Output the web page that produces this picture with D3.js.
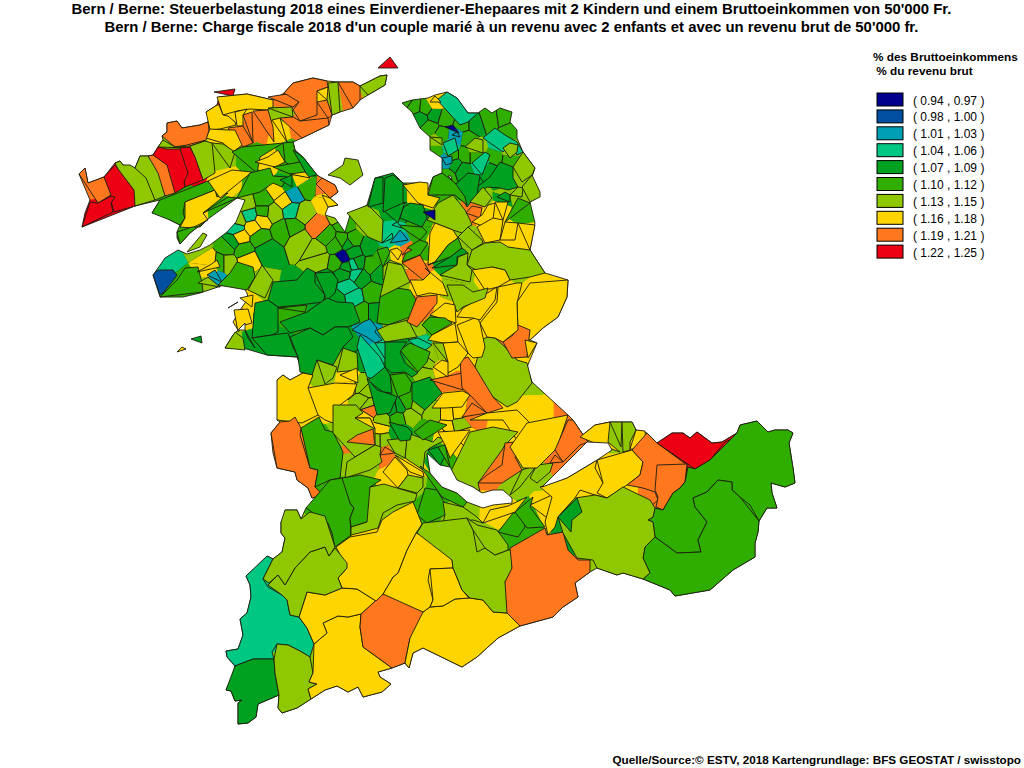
<!DOCTYPE html>
<html>
<head>
<meta charset="utf-8">
<script src="https://cdn.jsdelivr.net/npm/d3@7"></script>
<style>
  html, body { margin: 0; padding: 0; background: #fff; }
  text { font-family: "Liberation Sans", Arial, sans-serif; fill: #000; }
</style>
</head>
<body>
<div id="map"></div>
<script>
const titleLines = [
  "Bern / Berne: Steuerbelastung 2018 eines Einverdiener-Ehepaares mit 2 Kindern und einem Bruttoeinkommen von 50'000 Fr.",
  "Bern / Berne: Charge fiscale 2018 d'un couple marié à un revenu avec 2 enfants et avec un revenu brut de 50'000 fr."
];
const legendTitle = ["% des Bruttoeinkommens", " % du revenu brut"];
const sourceLine = "Quelle/Source:© ESTV, 2018 Kartengrundlage: BFS GEOSTAT / swisstopo";
const classLabels = ["( 0.94 , 0.97 )", "( 0.98 , 1.00 )", "( 1.01 , 1.03 )", "( 1.04 , 1.06 )", "( 1.07 , 1.09 )",
  "( 1.10 , 1.12 )", "( 1.13 , 1.15 )", "( 1.16 , 1.18 )", "( 1.19 , 1.21 )", "( 1.22 , 1.25 )"];
const classBreaks = [0.975, 1.005, 1.035, 1.065, 1.095, 1.125, 1.155, 1.185, 1.215];
const classColors = ["#00008c", "#004fa0", "#00a0b4", "#00c882", "#00a020", "#2fae00", "#8fc800", "#ffd500", "#ff781e", "#ee0014"];
const classMiddles = [0.95, 0.99, 1.02, 1.05, 1.08, 1.11, 1.14, 1.17, 1.20, 1.23];

// small communes of the dense middle: [x, y, rate]
const coreSeeds = [
  [167,260,1.05],[236,228,1.05],[250,215,1.05],[262,220,1.17],[253,227,1.17],[240,237,1.17],[238,220,1.14],[247,204,1.14],
  [227,247,1.11],[232,242,1.08],[220,263,1.11],[210,262,1.17],[228,263,1.14],[247,260,1.17],[243,250,1.11],[267,250,1.08],
  [260,237,1.11],[282,230,1.11],[300,240,1.14],[320,260,1.14],[317,227,1.20],[327,237,1.11],[263,200,1.11],[277,190,1.17],
  [285,200,1.17],[292,210,1.05],[293,195,1.02],[307,187,1.11],[327,197,1.17],[273,213,1.14],[263,212,1.11],[303,213,1.14],
  [293,227,1.11],[343,258,0.95],[352,240,1.11],[353,253,1.08],[355,264,1.05],[348,287,1.05],[357,275,1.05],[353,297,1.05],
  [373,293,1.11],[343,273,1.08],[327,280,1.08],[380,273,1.08],[357,263,1.08],[337,263,1.11],[337,300,1.08],[362,313,1.11],
  [375,313,1.08],[348,243,1.08],[370,247,1.08],[343,240,1.11],[372,265,1.11],[360,277,1.08],[345,267,1.08],[335,245,1.11],
  [317,250,1.14],[367,392,1.14],[363,400,1.14],[368,404,1.14],[370,410,1.20],[380,428,1.17],[365,418,1.17],[382,420,1.14],
  [382,440,1.14],[400,407,1.08],[407,403,1.11],[417,405,1.14],[433,413,1.14],[427,363,1.14],[425,373,1.14],[433,355,1.14],
  [448,413,1.17],[458,412,1.17],[447,428,1.17],[445,435,1.17],[460,425,1.14],[463,435,1.17],[453,445,1.17],[440,433,1.17],
  [360,385,1.14],[350,385,1.17],[380,402,1.08],[392,408,1.08],[398,418,1.11],[410,415,1.14],[378,440,1.14],[372,455,1.14],
  [405,100,1.11],[415,107,1.11],[425,108,1.11],[420,118,1.08],[435,115,1.08],[445,118,1.11],[430,128,1.11],[442,135,1.11],
  [436,150,1.11],[447,175,1.11],[463,125,1.11],[475,125,1.08],[490,120,1.11],[505,118,1.11],[510,130,1.11],[467,138,1.11],
  [455,165,1.08],[463,170,1.08],[475,155,1.11],[495,158,1.11],[510,160,1.11],[490,170,1.08],[452,155,1.11],[465,155,1.11],
  [395,195,1.08],[400,215,1.08],[415,225,1.11],[470,185,1.08],[505,195,1.14],[445,190,1.11],[425,170,1.11],[470,240,1.14],
  [340,215,1.14],[345,225,1.11],[415,265,1.17],[455,290,1.14],[415,330,1.14],[400,345,1.08],[360,360,1.08],[350,343,1.08]
];

const cantonOutline = [[82,227],[85,213],[90,200],[79,174],[85,168],[88,183],[104,177],[115,163],[120,161],[123,165],[135,168],[140,156],[148,156],
  [153,155],[158,147],[163,140],[162,136],[167,132],[167,123],[177,121],[182,128],[200,125],[208,122],[209,118],[206,112],[217,105],[219,97],
  [247,94],[273,100],[284,93],[293,83],[313,78],[327,81],[338,82],[353,82],[360,86],[380,76],[387,75],[385,85],[368,95],[360,100],[353,108],
  [340,112],[332,115],[329,125],[302,138],[293,142],[295,150],[303,157],[317,175],[322,178],[335,185],[338,192],[330,198],[338,205],[328,207],
  [325,215],[335,218],[345,232],[350,215],[367,205],[375,178],[393,173],[403,183],[420,183],[428,190],[433,177],[442,173],[442,158],[430,150],
  [430,137],[420,128],[412,112],[402,103],[412,100],[428,98],[435,95],[447,92],[457,98],[468,113],[478,113],[485,108],[492,113],[500,108],
  [512,112],[510,122],[517,130],[517,138],[523,152],[535,168],[532,177],[540,195],[530,202],[535,223],[530,250],[545,273],[568,280],[567,297],
  [558,317],[543,328],[530,340],[537,343],[527,367],[532,382],[568,415],[573,420],[588,442],[580,437],[595,425],[610,422],[632,422],[636,430],
  [647,433],[657,443],[672,433],[683,433],[690,438],[697,432],[712,443],[722,442],[737,433],[740,425],[757,421],[768,432],[775,430],[788,430],
  [793,433],[789,443],[793,468],[795,483],[785,487],[771,483],[772,493],[777,508],[767,508],[759,521],[758,532],[755,543],[755,557],[733,570],
  [710,590],[675,596],[670,590],[643,579],[623,573],[617,575],[597,568],[590,572],[575,583],[578,597],[563,607],[553,617],[520,626],[498,638],
  [477,657],[462,667],[423,648],[413,653],[409,668],[405,663],[392,668],[378,672],[380,677],[391,684],[382,692],[363,697],[358,687],[348,692],
  [337,686],[325,690],[311,699],[297,708],[282,713],[278,708],[279,695],[258,704],[256,717],[248,723],[238,724],[238,703],[242,700],[235,701],
  [231,691],[226,690],[233,675],[235,666],[227,657],[226,651],[238,649],[243,635],[240,619],[247,613],[251,597],[250,585],[246,576],[255,568],
  [267,556],[273,559],[282,552],[285,538],[281,533],[281,522],[288,520],[285,510],[297,510],[301,519],[306,508],[323,495],[312,498],[308,488],
  [297,480],[295,472],[277,468],[273,453],[271,433],[280,422],[277,420],[287,392],[277,380],[283,375],[290,380],[303,373],[297,357],[267,355],
  [243,348],[225,348],[233,335],[238,330],[233,322],[240,310],[245,303],[248,298],[247,293],[238,280],[215,288],[200,293],[183,297],[160,297],
  [153,275],[158,268],[165,258],[178,250],[187,254],[200,250],[210,245],[227,232],[236,222],[245,200],[237,198],[208,219],[190,233],[180,244],
  [177,238],[177,232],[180,225],[170,220],[157,210],[152,213],[160,200],[135,206],[113,212]];

const juraRings = [
  [1.23,[[214,92],[235,89],[233,96],[217,97]]],
  [1.17,[[217,97],[247,94],[273,100],[273,107],[267,110],[250,109],[237,111],[223,115],[219,105]]],
  [1.17,[[206,112],[217,105],[219,105],[223,115],[228,116],[235,122],[236,125],[220,129],[210,130],[209,118]]],
  [1.17,[[235,112],[247,109],[243,115],[243,126],[237,126],[236,122]]],
  [1.20,[[243,115],[252,112],[253,143],[243,126]]],
  [1.20,[[253,111],[268,110],[273,127],[274,142],[253,144]]],
  [1.20,[[228,128],[243,126],[253,143],[243,147],[235,130]]],
  [1.17,[[206,138],[210,129],[228,130],[235,130],[242,145],[233,152],[223,143],[207,140]]],
  [1.20,[[162,136],[167,132],[167,123],[177,121],[182,128],[200,125],[208,122],[209,130],[206,140],[187,145],[175,147],[167,143]]],
  [1.14,[[268,108],[292,107],[293,117],[272,120]]],
  [1.17,[[272,120],[280,118],[287,142],[274,142]]],
  [1.20,[[280,118],[293,117],[300,121],[328,118],[329,125],[302,138],[287,142]]],
  [1.20,[[268,97],[293,93],[299,102],[293,107],[268,108]]],
  [1.20,[[284,93],[293,83],[313,78],[327,81],[328,87],[317,91],[317,115],[300,121],[293,110],[299,102],[293,92]]],
  [1.20,[[317,102],[327,100],[332,115],[328,118],[318,116]]],
  [1.17,[[317,91],[328,87],[327,100],[317,102]]],
  [1.14,[[328,83],[338,82],[340,112],[332,115],[327,100]]],
  [1.20,[[338,82],[353,82],[360,86],[360,100],[353,108],[340,112]]],
  [1.14,[[360,86],[380,76],[387,75],[385,85],[368,95],[360,97]]],
  [1.23,[[378,68],[390,57],[398,68],[388,75]]],
  [1.14,[[328,175],[343,165],[345,158],[358,160],[363,175],[350,185],[340,178],[333,185]]],
  [1.14,[[158,147],[163,140],[175,147],[190,146],[205,141],[190,148],[167,150]]],
  [1.14,[[190,146],[205,141],[212,143],[215,173],[203,180],[193,153]]],
  [1.14,[[212,143],[223,144],[235,152],[230,168],[215,173]]],
  [1.23,[[180,148],[190,147],[195,157],[203,180],[185,187],[188,173]]],
  [1.23,[[153,155],[158,147],[167,149],[180,149],[188,173],[184,182],[185,187],[175,193],[167,165]]],
  [1.20,[[148,156],[153,155],[167,165],[175,193],[165,196],[158,173]]],
  [1.14,[[135,168],[140,156],[148,156],[158,173],[165,196],[155,200],[146,178]]],
  [1.14,[[115,163],[120,161],[123,165],[130,165],[135,168],[146,178],[155,200],[135,206],[134,190]]],
  [1.23,[[104,177],[115,165],[134,190],[135,206],[114,212],[111,198]]],
  [1.20,[[79,174],[85,168],[88,183],[104,177],[111,195],[98,203],[90,200]]],
  [1.23,[[90,202],[98,203],[111,196],[115,197],[111,203],[113,212],[82,227],[85,213]]],
  [1.11,[[152,213],[160,200],[208,181],[215,190],[185,202],[183,213],[185,218],[180,225],[170,220],[157,210]]],
  [1.17,[[185,202],[215,190],[217,197],[228,193],[203,213],[208,220],[192,228],[180,227],[185,218],[183,213]]],
  [1.17,[[208,181],[232,170],[252,172],[220,198],[215,190]]],
  [1.11,[[203,213],[228,197],[237,198],[207,222]]],
  [1.11,[[177,232],[192,227],[200,227],[208,219],[190,233],[180,244],[177,238]]],
  [1.14,[[187,252],[203,233],[207,235],[200,247],[190,252]]],
  [1.11,[[232,152],[242,147],[283,143],[260,157],[257,173],[232,168]]],
  [1.17,[[255,162],[268,157],[278,150],[285,162],[275,167],[257,173]]],
  [1.11,[[283,143],[293,142],[295,150],[300,157],[300,162],[290,165],[285,162],[278,150]]],
  [1.08,[[293,150],[303,157],[317,175],[308,177],[301,163]]],
  [1.11,[[273,167],[300,162],[308,177],[290,174],[273,176]]],
  [1.17,[[290,174],[305,172],[310,178],[298,183]]],
  [1.11,[[250,173],[270,168],[273,176],[287,177],[282,187],[273,183],[260,192],[237,198],[230,193]]],
  [1.08,[[280,180],[292,175],[292,187],[282,190]]],
  [1.20,[[316,184],[322,178],[335,185],[338,192],[330,198],[315,193]]],
  [1.17,[[322,195],[330,198],[338,205],[328,207],[315,204]]]
];

const seelandRings = [
  [0.99,[[153,275],[158,270],[173,270],[177,275],[172,282],[163,293],[160,295],[157,283]]],
  [1.11,[[160,297],[177,280],[185,268],[198,267],[202,283],[203,292],[183,297]]],
  [1.14,[[198,283],[208,277],[220,287],[203,293]]],
  [1.02,[[207,275],[215,270],[222,282],[215,288]]],
  [1.17,[[197,272],[210,265],[217,260],[220,267],[203,278]]],
  [1.11,[[218,285],[230,273],[237,262],[253,267],[255,277],[247,290],[238,280]]],
  [1.14,[[248,290],[262,265],[273,280],[265,298],[257,302]]],
  [1.08,[[273,282],[297,280],[307,268],[315,272],[315,283],[325,295],[323,302],[300,305],[278,307],[268,300],[268,290]]],
  [1.08,[[315,273],[332,272],[338,280],[335,293],[325,302],[325,295],[315,283]]],
  [1.08,[[255,303],[268,300],[278,307],[278,332],[272,335],[252,338],[248,327]]],
  [1.11,[[278,308],[307,305],[305,312],[280,322]]],
  [1.08,[[280,322],[307,312],[327,298],[337,302],[353,303],[360,322],[348,327],[335,327],[323,335],[310,328],[290,333],[278,332]]],
  [1.08,[[252,338],[272,335],[288,333],[293,347],[298,357],[267,355],[255,348]]],
  [1.08,[[290,337],[310,328],[323,335],[335,327],[348,327],[353,337],[343,347],[333,365],[317,360],[312,375],[300,372],[298,357],[293,347]]],
  [1.14,[[317,360],[337,367],[333,378],[325,384],[313,375]]],
  [1.14,[[343,348],[357,353],[358,370],[337,372],[333,365]]],
  [1.17,[[340,375],[357,368],[358,383],[335,383]]],
  [1.20,[[228,308],[238,302],[243,308]]],
  [1.17,[[240,298],[253,295],[252,307],[242,308]]],
  [1.17,[[234,310],[248,309],[252,323],[245,325],[238,332],[232,325]]],
  [1.14,[[225,348],[235,332],[243,338],[245,350],[237,349]]],
  [1.08,[[245,330],[248,338],[255,348],[245,350]]],
  [1.17,[[177,352],[182,347],[186,349],[182,355]]],
  [1.08,[[191,339],[201,336],[202,343],[195,348]]]
];

const oberaargauRings = [
  [1.05,[[437,100],[447,92],[457,98],[468,113],[478,113],[468,122],[460,125],[450,117]]],
  [1.05,[[483,138],[495,128],[505,135],[517,142],[523,152],[517,155],[510,145],[503,152],[485,152]]],
  [1.14,[[465,147],[475,138],[483,140],[483,153],[472,163]]],
  [1.05,[[443,143],[455,138],[458,150],[448,156],[442,152]]],
  [1.05,[[472,163],[485,152],[490,155],[482,175],[473,168]]],
  [1.02,[[442,158],[452,156],[452,163],[446,165],[443,170]]],
  [1.02,[[452,135],[457,132],[460,137],[455,140]]],
  [0.95,[[445,127],[453,125],[459,133],[455,132]]],
  [1.17,[[430,102],[435,96],[441,102],[435,107]]],
  [1.14,[[430,137],[442,138],[442,145],[432,145]]],
  [1.14,[[503,148],[510,143],[518,145],[517,152],[510,158],[505,157]]],
  [1.08,[[477,195],[477,187],[490,177],[500,162],[513,167],[513,178],[518,187],[508,190],[500,188],[487,187],[480,193]]],
  [1.08,[[455,185],[468,173],[480,175],[477,195],[467,207],[465,195]]],
  [1.14,[[470,202],[483,187],[492,198],[485,207],[477,205]]],
  [1.08,[[497,197],[505,192],[510,195],[510,202],[497,200]]],
  [1.11,[[505,222],[518,198],[530,203],[535,224]]],
  [1.14,[[510,195],[518,187],[523,188],[522,197],[512,202]]],
  [1.14,[[522,187],[532,175],[540,192],[540,197],[530,202],[522,197]]],
  [1.14,[[513,167],[523,152],[535,168],[532,175],[522,182],[513,175]]],
  [1.14,[[438,203],[453,195],[465,210],[470,220],[472,225],[468,227],[462,233],[453,230],[435,223],[427,220],[435,212]]],
  [1.20,[[466,213],[472,206],[482,208],[480,218],[472,215]]],
  [1.17,[[472,222],[482,215],[488,205],[495,203],[493,220],[485,227],[478,222]]],
  [1.17,[[495,202],[508,202],[503,220],[493,220]]],
  [1.17,[[477,227],[493,218],[503,220],[500,240],[485,243],[483,238]]],
  [1.17,[[500,240],[505,222],[518,223],[515,240],[508,247]]],
  [1.17,[[518,223],[535,225],[530,250],[515,245]]],
  [1.14,[[467,265],[472,250],[485,243],[500,242],[508,247],[530,250],[545,273],[530,277],[510,280],[505,270],[492,267],[480,272],[472,270]]],
  [1.17,[[472,270],[492,267],[505,270],[510,280],[498,287],[485,290],[475,282]]],
  [1.14,[[458,237],[468,227],[482,240],[483,243],[472,250],[462,248]]],
  [1.17,[[430,233],[435,223],[453,230],[458,238],[448,245],[435,262],[428,265],[428,243]]],
  [1.08,[[432,268],[450,257],[462,248],[468,253],[457,257],[457,265],[440,273]]],
  [1.11,[[428,265],[435,262],[448,245],[458,238],[462,248],[450,257],[432,268]]],
  [1.14,[[440,275],[457,265],[458,257],[468,253],[467,265],[472,270],[470,282],[445,283]]],
  [1.20,[[402,263],[420,255],[430,273],[423,280],[410,280]]],
  [1.17,[[410,280],[423,280],[430,273],[425,268],[443,283],[448,296],[430,293],[417,296],[407,295]]],
  [1.08,[[400,218],[403,208],[410,203],[423,205],[427,218],[422,227],[400,223]]],
  [0.95,[[423,212],[435,210],[435,220],[427,220]]],
  [1.11,[[398,225],[422,227],[427,232],[420,240],[403,228]]],
  [1.08,[[383,210],[405,202],[398,223],[390,222]]],
  [1.11,[[428,243],[420,240],[408,247],[402,262],[420,255],[428,265]]],
  [1.02,[[390,243],[400,230],[408,240],[405,245]]],
  [1.05,[[392,225],[397,222],[402,228],[395,235]]],
  [1.05,[[382,243],[392,233],[393,238],[387,247]]],
  [1.17,[[390,250],[397,248],[402,252],[398,260],[393,258]]],
  [1.20,[[402,255],[408,248],[412,250],[405,255]]],
  [1.14,[[383,280],[383,267],[390,260],[402,265],[410,280]]],
  [1.11,[[377,250],[387,247],[390,252],[383,267],[377,260]]],
  [1.14,[[347,213],[368,205],[383,220],[382,243],[368,237],[353,230]]],
  [1.08,[[375,178],[383,177],[383,203],[368,207],[375,193]]],
  [1.08,[[385,178],[393,175],[403,183],[403,203],[383,212],[382,203]]],
  [1.17,[[403,185],[420,182],[428,183],[428,195],[440,198],[433,208],[418,203],[407,203]]],
  [1.11,[[428,195],[433,177],[442,173],[455,183],[465,197],[467,205],[455,195],[438,203]]]
];

const emmentalRings = [
  [1.11,[[380,297],[390,287],[410,290],[416,300],[410,317],[388,325],[377,323],[375,310]]],
  [1.14,[[377,330],[388,325],[408,320],[417,337],[385,342],[380,340]]],
  [1.14,[[380,297],[388,262],[402,265],[410,282],[390,287]]],
  [1.20,[[417,297],[437,295],[437,303],[417,327],[407,322],[413,310]]],
  [1.05,[[357,347],[360,335],[380,357],[385,367],[375,380],[367,377],[357,358]]],
  [1.02,[[352,330],[363,322],[370,319],[377,328],[375,332],[382,340],[375,343],[367,337],[360,335]]],
  [1.05,[[375,343],[393,342],[387,362],[380,357]]],
  [1.05,[[408,340],[418,338],[432,345],[423,352],[413,350]]],
  [1.11,[[400,350],[410,343],[430,352],[427,362],[418,372],[403,362]]],
  [1.08,[[385,342],[407,342],[400,352],[405,363],[418,373],[412,377],[405,372],[392,373],[385,367],[380,343]]],
  [1.08,[[367,380],[373,377],[385,367],[390,375],[392,393],[383,392],[375,387]]],
  [1.11,[[390,375],[405,373],[412,383],[410,392],[398,397],[393,393]]],
  [1.08,[[412,383],[430,377],[442,393],[425,410],[412,400],[410,392]]],
  [1.08,[[367,378],[377,390],[393,395],[397,397],[390,413],[377,415],[372,403]]],
  [1.20,[[430,380],[462,373],[463,390],[443,393]]],
  [1.20,[[460,360],[468,357],[475,367],[490,383],[493,397],[503,408],[487,413],[472,397],[462,388],[463,373]]],
  [1.14,[[475,367],[482,340],[487,337],[495,338],[503,345],[517,360],[527,363],[532,383],[517,402],[507,407],[493,397],[490,383]]],
  [1.17,[[517,302],[530,283],[568,280],[567,297],[558,317],[543,328],[530,340],[518,332],[517,313]]],
  [1.20,[[503,342],[513,335],[518,325],[530,330],[527,357],[512,358],[507,353]]],
  [1.17,[[525,340],[537,343],[528,358],[523,355]]],
  [1.17,[[480,323],[497,302],[498,287],[517,283],[522,283],[517,303],[518,330],[503,342],[495,338],[487,337],[482,340]]],
  [1.17,[[457,325],[477,317],[480,323],[485,347],[482,357],[473,358],[468,353],[458,340]]],
  [1.17,[[457,317],[463,308],[497,287],[495,300],[480,320],[473,318],[457,325]]],
  [1.14,[[447,285],[463,285],[473,292],[488,288],[485,298],[463,307],[457,312],[448,300]]],
  [1.17,[[430,315],[445,303],[455,305],[456,323],[445,318]]],
  [1.11,[[422,325],[430,317],[445,318],[452,323],[432,335],[427,327]]],
  [1.17,[[428,340],[432,335],[455,323],[458,342],[443,343],[433,343]]],
  [1.17,[[443,343],[458,342],[468,353],[458,367],[448,373],[447,357]]],
  [1.14,[[433,343],[443,343],[448,362],[440,362]]],
  [1.17,[[433,367],[442,360],[448,362],[448,377],[437,373]]],
  [1.17,[[432,408],[443,393],[463,391],[470,395],[462,407],[445,408],[443,413]]],
  [1.20,[[462,417],[472,403],[487,413],[468,427]]],
  [1.17,[[470,420],[487,413],[517,410],[530,423],[522,432],[517,440],[503,420],[473,427]]],
  [1.17,[[277,380],[283,375],[290,380],[303,373],[313,375],[308,388],[322,403],[318,415],[302,423],[277,420],[287,392]]],
  [1.17,[[308,388],[335,383],[357,384],[353,395],[340,405],[333,423],[325,420],[318,415],[322,403]]]
];

const thunRings = [
  [1.20,[[271,433],[280,422],[290,421],[295,417],[301,428],[300,435],[310,468],[318,470],[315,487],[323,495],[312,498],[308,488],[297,480],[295,472],[277,468],[273,453]]],
  [1.11,[[301,428],[319,417],[325,430],[333,432],[343,452],[340,478],[330,480],[315,487],[318,470],[310,468],[300,435]]],
  [1.14,[[333,433],[333,405],[356,405],[363,413],[355,418],[370,418],[375,429],[375,445],[355,457],[347,453]]],
  [1.17,[[355,418],[370,418],[375,429],[360,432]]],
  [1.20,[[347,442],[357,435],[373,429],[375,445],[355,457]]],
  [1.14,[[345,478],[347,462],[355,457],[375,445],[381,447],[380,455],[382,462],[370,470],[362,468]]],
  [1.11,[[306,508],[330,480],[342,478],[347,487],[350,503],[354,508],[350,518],[351,535],[335,547],[332,533],[328,523],[318,517]]],
  [1.11,[[342,478],[360,475],[381,480],[370,487],[373,513],[367,522],[351,527],[350,518],[354,508],[350,503],[347,487]]],
  [1.14,[[370,487],[384,484],[417,494],[415,501],[397,505],[383,513],[378,528],[367,531],[351,535],[351,527],[367,522],[373,513]]],
  [1.17,[[383,472],[395,457],[407,470],[408,475],[398,488],[380,480]]],
  [1.17,[[395,455],[410,472],[424,477],[423,472],[408,465]]],
  [1.14,[[398,488],[408,475],[423,478],[423,487],[417,493],[407,493]]],
  [1.20,[[380,455],[385,447],[395,453],[382,462]]],
  [1.14,[[405,458],[407,433],[433,442],[438,437],[445,440],[430,448],[425,452],[423,470],[408,465]]],
  [1.14,[[387,440],[407,438],[405,458],[395,453],[387,448]]],
  [1.08,[[389,422],[407,427],[412,432],[410,440],[400,441],[390,440]]],
  [1.11,[[414,432],[430,420],[447,425],[435,433],[423,440],[410,440]]],
  [1.11,[[420,466],[430,473],[442,487],[457,493],[467,502],[463,507],[442,497],[425,487]]],
  [1.11,[[425,488],[437,490],[447,507],[445,515],[427,523],[417,515],[415,500]]],
  [1.14,[[443,502],[463,507],[477,517],[483,523],[473,520],[443,522],[445,515],[447,507]]],
  [1.14,[[470,432],[493,427],[518,432],[505,445],[502,450],[478,483],[480,492],[473,487],[457,483],[450,473],[450,457]]],
  [1.20,[[478,483],[487,475],[502,465],[505,443],[525,441],[515,457],[522,470],[502,483],[482,493]]],
  [1.14,[[522,470],[537,465],[520,487],[510,495],[502,483]]],
  [1.14,[[530,478],[537,465],[553,463],[550,472],[537,483],[530,483]]],
  [1.17,[[527,423],[568,415],[557,448],[537,468],[523,468],[510,447],[517,442]]],
  [1.20,[[568,420],[573,420],[588,442],[580,445],[563,462],[555,450],[568,427]]],
  [1.20,[[550,463],[555,455],[563,462],[555,472]]],
  [1.17,[[438,432],[470,430],[450,458],[445,445],[430,448]]],
  [1.08,[[428,450],[438,447],[445,457],[440,465],[432,460]]],
  [1.11,[[438,447],[445,445],[450,467],[445,457]]]
];

const oberlandRings = [
  [1.05,[[267,556],[273,559],[263,579],[268,587],[282,595],[287,600],[290,615],[299,617],[307,628],[314,644],[310,657],[300,651],[288,645],[277,644],[272,652],[274,659],[253,659],[235,666],[227,657],[226,651],[238,649],[243,635],[240,619],[247,613],[251,597],[250,585],[246,576],[255,568]]],
  [1.08,[[235,666],[253,659],[274,659],[275,673],[279,695],[258,704],[256,717],[248,723],[238,724],[238,703],[242,700],[235,701],[231,691],[226,690],[233,675]]],
  [1.14,[[277,644],[288,645],[300,651],[310,657],[313,673],[309,682],[317,684],[308,689],[311,699],[297,708],[282,713],[278,708],[279,695],[275,673],[274,659],[272,652]]],
  [1.17,[[314,644],[327,633],[323,623],[338,616],[348,617],[361,614],[360,627],[363,647],[392,668],[378,672],[380,677],[391,684],[382,692],[363,697],[358,687],[348,692],[337,686],[325,690],[311,699],[308,689],[317,684],[309,682],[313,673],[310,657]]],
  [1.17,[[307,592],[325,595],[342,588],[357,589],[376,601],[361,614],[348,617],[338,616],[323,623],[327,633],[314,644],[307,628],[299,617],[303,603]]],
  [1.20,[[383,594],[403,598],[423,612],[422,625],[410,638],[405,663],[392,668],[363,647],[360,627],[361,614],[376,601]]],
  [1.17,[[423,612],[430,607],[443,606],[455,599],[470,598],[483,600],[493,612],[507,613],[520,626],[498,638],[477,657],[462,667],[423,648],[413,653],[409,668],[405,663],[410,638],[422,625]]],
  [1.17,[[383,594],[393,577],[398,573],[407,550],[416,533],[433,540],[452,560],[453,568],[430,569],[428,580],[433,600],[430,607],[423,612],[403,598]]],
  [1.17,[[430,569],[453,568],[458,580],[462,590],[469,598],[455,599],[443,606],[430,607],[433,600],[428,580]]],
  [1.17,[[336,547],[350,537],[377,532],[382,520],[393,512],[413,502],[422,524],[416,533],[407,550],[398,573],[393,577],[383,594],[376,601],[357,589],[342,588],[338,578],[347,568],[345,558]]],
  [1.14,[[268,585],[278,575],[285,585],[295,568],[310,552],[325,547],[329,556],[335,548],[347,563],[347,568],[338,578],[342,588],[325,595],[307,592],[299,617],[290,615],[287,600],[282,595],[268,587]]],
  [1.14,[[285,510],[297,510],[301,519],[310,512],[325,516],[335,547],[329,556],[325,547],[310,552],[295,568],[285,585],[278,575],[269,583],[263,579],[273,559],[282,552],[285,538],[281,533],[281,522],[288,520]]],
  [1.14,[[417,533],[423,523],[442,521],[467,518],[473,530],[477,552],[485,548],[495,555],[508,550],[513,550],[512,570],[505,582],[513,603],[507,613],[493,612],[483,600],[470,598],[462,590],[458,580],[453,568],[452,560],[433,540]]],
  [1.14,[[473,530],[467,518],[477,525],[497,530],[508,545],[508,550],[495,555],[485,548],[477,552]]],
  [1.20,[[505,582],[512,568],[510,548],[545,528],[547,535],[563,532],[568,550],[578,560],[590,560],[590,572],[575,583],[578,597],[563,607],[553,617],[520,626],[507,613],[513,603]]],
  [1.11,[[498,532],[513,513],[523,512],[525,527],[518,537],[508,547]]],
  [1.11,[[515,512],[533,497],[530,507],[545,527],[527,528],[523,512]]],
  [1.17,[[483,523],[490,510],[508,506],[527,497],[515,512],[498,532]]],
  [1.17,[[530,505],[552,495],[556,503],[550,520],[545,527]]],
  [1.17,[[540,487],[567,478],[597,460],[595,468],[603,483],[607,498],[595,495],[580,490],[575,498],[558,517],[555,527],[548,535],[545,522],[552,497],[533,497]]],
  [1.17,[[597,460],[632,450],[643,462],[640,475],[627,485],[607,498],[597,493],[603,483],[595,468]]],
  [1.17,[[580,437],[595,425],[610,422],[608,442],[620,452],[592,442],[588,442]]],
  [1.14,[[610,422],[622,422],[621,447],[608,442]]],
  [1.14,[[622,422],[632,422],[636,430],[630,442],[630,450],[623,452],[621,447]]],
  [1.17,[[636,430],[645,431],[647,449],[630,449],[630,442]]],
  [1.20,[[647,433],[657,443],[687,465],[685,482],[680,488],[673,493],[663,510],[650,507],[658,500],[655,492],[643,488],[627,485],[640,475],[643,462],[632,450],[647,449]]],
  [1.20,[[657,465],[687,464],[685,482],[680,488],[673,493],[663,510],[656,507],[658,497],[655,490],[643,482]]],
  [1.23,[[657,443],[672,433],[683,433],[690,438],[697,432],[712,443],[722,442],[737,433],[732,439],[725,442],[710,460],[695,469],[687,465]]],
  [1.11,[[737,433],[740,425],[757,421],[768,432],[775,430],[788,430],[793,433],[789,443],[793,468],[795,483],[785,487],[771,483],[772,493],[777,508],[767,508],[759,521],[750,505],[740,497],[732,490],[732,482],[718,480],[707,492],[693,498],[695,507],[707,522],[698,540],[701,552],[677,553],[655,537],[653,522],[648,520],[653,517],[655,508],[663,510],[673,493],[680,488],[685,482],[688,467],[695,469],[710,460],[725,442]]],
  [1.11,[[759,521],[758,532],[755,543],[755,557],[733,570],[710,590],[675,596],[670,590],[643,579],[650,573],[643,558],[645,547],[655,537],[677,553],[701,552],[698,540],[707,522],[695,507],[693,498],[707,492],[718,480],[732,482],[732,490],[740,497],[750,505]]],
  [1.14,[[575,498],[595,495],[607,498],[623,487],[650,500],[655,508],[653,517],[648,520],[653,522],[655,537],[645,547],[643,558],[650,573],[643,579],[623,573],[617,575],[597,568],[593,560],[577,558],[563,533],[558,517],[580,510]]],
  [1.08,[[558,517],[577,498],[582,512],[572,520],[571,532],[562,533]]]
];

// lakes and enclaves stay blank
const blankRings = [
  [[427,453],[440,465],[450,467],[457,480],[473,487],[482,493],[493,490],[503,490],[512,498],[512,503],[493,505],[483,508],[467,502],[457,493],[442,487],[430,473],[423,463]],
  [[542,487],[587,442],[608,443],[612,450],[597,460],[567,478],[550,488]],
  [[238,330],[245,323],[245,330],[242,333]],
  [[448,176],[451,176],[452,180],[449,181]]
];

const width = 1024;
const height = 768;

const svg = d3.select("#map")
  .append("svg")
  .attr("width", width)
  .attr("height", height)
  .style("display", "block");

const color = d3.scaleThreshold().domain(classBreaks).range(classColors);
const path = d3.geoPath(d3.geoIdentity());
const asPolygon = ring => ({ type: "Polygon", coordinates: [ring] });

const ringGroups = [juraRings, seelandRings, oberaargauRings, emmentalRings, thunRings, oberlandRings];

// fill between traced communes: nearest commune wins, the tiny dark ones would bleed
const ringSeeds = ringGroups.flat()
  .filter(d => d[0] > 1.0)
  .map(d => [...d3.polygonCentroid(d[1]), d[0]]);
const allSeeds = coreSeeds.concat(ringSeeds);
const voronoi = d3.Delaunay.from(allSeeds, d => d[0], d => d[1]).voronoi([0, 0, width, height]);

svg.append("defs").append("clipPath").attr("id", "canton")
  .append("path").attr("d", path(asPolygon(cantonOutline)));

const strokeColor = "#1c1c10";

svg.append("g")
  .attr("clip-path", "url(#canton)")
  .selectAll("path")
  .data(allSeeds)
  .join("path")
  .attr("d", (d, i) => voronoi.renderCell(i))
  .attr("fill", d => color(d[2]))
  .attr("stroke", (d, i) => i < coreSeeds.length ? strokeColor : color(d[2]))
  .attr("stroke-width", 0.9);

svg.append("path")
  .attr("d", path(asPolygon(cantonOutline)))
  .attr("fill", "none")
  .attr("stroke", strokeColor)
  .attr("stroke-width", 0.9);

ringGroups.forEach(rings => {
  svg.append("g")
    .selectAll("path")
    .data(rings)
    .join("path")
    .attr("d", d => path(asPolygon(d[1])))
    .attr("fill", d => color(d[0]))
    .attr("stroke", strokeColor)
    .attr("stroke-width", 0.9)
    .attr("stroke-linejoin", "round");
});

svg.append("g")
  .selectAll("path")
  .data(blankRings)
  .join("path")
  .attr("d", d => path(asPolygon(d)))
  .attr("fill", "#fff")
  .attr("stroke", strokeColor)
  .attr("stroke-width", 0.9);

// titles
svg.selectAll(".title")
  .data(titleLines)
  .join("text")
  .attr("class", "title")
  .attr("x", 511.5)
  .attr("y", (d, i) => 14 + i * 18)
  .attr("text-anchor", "middle")
  .attr("font-size", 14.9)
  .attr("font-weight", "bold")
  .text(d => d);

svg.selectAll(".legend-title")
  .data(legendTitle)
  .join("text")
  .attr("class", "legend-title")
  .attr("x", 873)
  .attr("y", (d, i) => 61 + i * 14)
  .attr("font-size", 11.8)
  .attr("font-weight", "bold")
  .style("white-space", "pre")
  .text(d => d);

// legend
const legendY = d3.scaleBand().domain(d3.range(classLabels.length)).range([93, 262]);

svg.selectAll(".swatch")
  .data(classMiddles)
  .join("rect")
  .attr("class", "swatch")
  .attr("x", 877)
  .attr("y", (d, i) => legendY(i))
  .attr("width", 26)
  .attr("height", 13)
  .attr("fill", d => color(d))
  .attr("stroke", "#000")
  .attr("stroke-width", 1);

svg.selectAll(".class-label")
  .data(classLabels)
  .join("text")
  .attr("class", "class-label")
  .attr("x", 913)
  .attr("y", (d, i) => legendY(i) + 11.5)
  .attr("font-size", 12)
  .text(d => d);

svg.append("text")
  .attr("x", 1021)
  .attr("y", 764)
  .attr("text-anchor", "end")
  .attr("font-size", 11.7)
  .attr("font-weight", "bold")
  .text(sourceLine);
</script>
</body>
</html>
